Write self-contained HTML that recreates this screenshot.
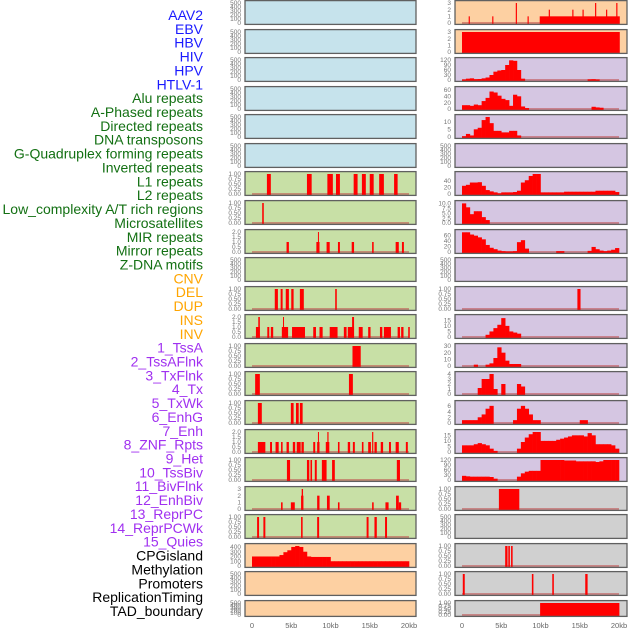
<!DOCTYPE html>
<html><head><meta charset="utf-8"><style>
html,body{margin:0;padding:0;background:#fff;}
svg{display:block;font-family:"Liberation Sans",sans-serif;}
</style></head><body>
<svg id="chart" width="630" height="630" viewBox="0 0 630 630" xmlns="http://www.w3.org/2000/svg"></svg>
<script>
// ---------- labels ----------
const labelsBlue = ["AAV2","EBV","HBV","HIV","HPV","HTLV-1"];
const labelsGreen = ["Alu repeats","A-Phased repeats","Directed repeats","DNA transposons","G-Quadruplex forming repeats","Inverted repeats","L1 repeats","L2 repeats","Low_complexity A/T rich regions","Microsatellites","MIR repeats","Mirror repeats","Z-DNA motifs"];
const labelsOrange = ["CNV","DEL","DUP","INS","INV"];
const labelsPurple = ["1_TssA","2_TssAFlnk","3_TxFlnk","4_Tx","5_TxWk","6_EnhG","7_Enh","8_ZNF_Rpts","9_Het","10_TssBiv","11_BivFlnk","12_EnhBiv","13_ReprPC","14_ReprPCWk","15_Quies"];
const labelsBlack = ["CPGisland","Methylation","Promoters","ReplicationTiming","TAD_boundary"];
const xTickLabels = ["0","5kb","10kb","15kb","20kb"];
const xTickValues = [0,5,10,15,20];

// ---------- interval data [startKb, endKb, value] ----------
const leftBars7 = [[1.9,2.4,1],[7.0,7.6,1],[9.6,10.3,1],[10.7,11.2,1],[12.95,13.45,1],[14.0,14.5,1],[15.0,15.5,1],[16.2,16.8,1],[18.1,18.55,1]];
const leftBars8 = [[1.3,1.5,1]];
const leftBars9 = [[4.4,4.7,1],[8.2,8.6,1],[8.4,8.5,2],[9.5,9.9,1],[10.95,11.2,1],[12.7,13.0,1],[15.3,15.5,1],[18.3,18.7,1],[19.1,19.35,1]];
const leftBars11 = [[2.9,3.3,1],[3.65,3.9,1],[4.3,4.7,1],[5.0,5.3,1],[6.1,6.6,1],[10.6,10.8,1]];
const leftBars12 = [[0.5,1.0,1],[0.8,1.0,2],[1.95,2.2,1],[2.4,2.7,1],[3.8,4.6,1],[3.95,4.05,2],[5.1,6.75,1],[7.8,8.15,1],[8.6,9.0,1],[9.9,10.9,1],[11.7,12.05,1],[12.2,13.0,1],[12.75,13.0,2],[13.6,14.1,1],[14.8,15.1,1],[16.3,16.6,1],[16.8,17.7,1],[18.55,18.85,1],[19.0,19.3,1],[19.9,20.1,1]];
const leftBars13 = [[12.8,13.85,1]];
const leftBars14 = [[0.4,1.0,1],[12.35,12.85,1]];
const leftBars15 = [[0.75,1.25,1],[4.95,5.3,1],[5.6,5.95,1],[6.1,6.45,1]];
const leftBars16 = [[0.75,1.7,1],[2.3,2.55,1],[3.0,3.4,1],[3.7,3.9,1],[4.4,4.7,1],[5.2,5.5,1],[5.7,6.2,1],[6.3,6.6,1],[7.8,8.05,1],[8.3,8.6,1],[8.4,8.5,2],[9.4,9.85,1],[9.6,9.75,2],[10.95,11.15,1],[12.2,12.5,1],[12.85,13.1,1],[14.0,14.2,1],[14.8,15.15,1],[15.3,15.45,2],[15.6,15.9,1],[16.4,16.7,1],[17.45,17.7,1],[18.3,18.7,1],[19.6,19.85,1]];
const leftBars17 = [[4.45,4.85,1],[7.0,7.3,1],[7.45,7.65,1],[8.0,8.25,1],[8.9,9.5,1],[10.2,10.55,1],[18.45,18.85,1]];
const leftBars18 = [[3.7,3.9,1],[4.95,5.45,1],[6.25,6.55,2],[6.33,6.5,3],[8.3,8.6,2],[9.55,9.9,2],[10.95,11.15,1],[15.3,15.5,1],[17.0,17.4,1],[18.35,18.7,2],[18.7,19.0,1]];
const leftBars19 = [[0.65,0.9,1],[1.45,1.7,1],[6.25,6.45,1],[8.3,8.55,1],[14.6,14.85,1],[15.6,15.9,1],[16.95,17.2,1]];
const rightBarsINS = [[0.85,1.0,1],[3.85,4.0,1],[6.85,7.0,3],[8.35,8.5,1],[9.9,20.1,1],[11.05,11.2,2],[14.05,14.2,2],[15.35,15.5,2],[16.95,17.1,3],[18.35,18.5,2],[19.65,19.8,3]];
const rightBarsINV = [[0.0,20.1,3]];
const rightBars11 = [[14.7,15.1,1]];
const rightBarsCPG = [[4.7,7.3,1]];
const rightBarsPromoters = [[5.5,5.8,1],[5.9,6.1,1],[6.25,6.45,1]];
const rightBarsRepl = [[0.1,0.35,1],[8.9,9.1,1],[11.5,11.7,1],[15.7,16.0,1]];
const rightBarsTAD = [[9.95,20.05,1]];

// ---------- binned data (0.5 kb bins, 0-20 kb) ----------
const binsR3 = [3,8,10,5,6,10,15,30,50,57,60,90,118,115,60,8,0,0,0,0,0,0,0,0,0,0,0,0,0,0,0,0,4,5,3,0,0,0,0,0];
const binsR4 = [12,12,10,14,12,25,35,55,52,42,32,28,10,45,40,8,3,0,0,0,0,0,0,0,0,0,0,0,0,0,0,0,0,7,5,4,0,0,0,0];
const binsR5 = [0.5,2,1,5,6,11,13,9,4,4,3,3,4,4,1,0,0,0,0,0,0,0,0,0,0,0,0,0,0,0,0,0,0,0,0,0,0,0,0,0];
const binsR7 = [25,28,35,35,36,25,12,8,5,2,5,5,5,6,10,35,42,55,61,61,5,5,5,5,5,5,7,7,7,7,7,7,7,7,10,10,10,10,10,6];
const binsR8 = [10,8,4.5,6,6,3,1.5,0,0,0,0,0,0,0,0,0,0,0,0,0,0,0,0,0,0,0,0,0,0,0,0,0,0,0,0,0,0,0,0,0];
const binsR9 = [70,70,62,58,52,45,25,15,10,5,3,2,2,3,35,42,12,0,0,0,0,0,0,0,3,3,0,0,0,0,0,0,4,18,10,5,3,5,8,14];
const binsR12 = [0,0,0,0,0,0,2,5,8,11,17,10,5,4,3,0,0,0,0,0,0,0,0,0,0,0,0,0,0,0,0,0,0,0,0,0,0,0,0,0];
const binsR13 = [0,0,0,2,0,0,2,4,12,28,20,8,3,3,3,0,0,0,0,0,0,0,0,0,0,0,0,0,0,0,0,0,0,0,0,0,0,0,0,0];
const binsR14 = [0,0,0,0,1.2,3,3,4,1,0,2,0,0,0,2,1.5,0,0,0,0,0,0,0,0,0,0,0,0,0,0,0,0,0,0,0,0,0,0,0,0];
const binsR15 = [1,1,1,1,2,3,5,6,0,0,0,0,0,1,5,6,5,3,1,1,0,0,0,0,0,0,0,0,0,0,1,1,0,0,0,0,0,0,0,0];
const binsR16 = [6,6,6,7,8,7,6,3,1,0,0,0,0,0,3,9,13,16,18,18,10,10,10,10,11,12,13,14,15,15,15,14,17,15,7,7,7,7,6,3];
const binsR17 = [25,22,20,20,20,20,20,18,8,0,0,0,0,0,20,40,50,55,55,55,120,120,120,120,120,120,117,117,117,112,112,112,112,112,108,112,120,120,120,120];
const binsMethyl = [200,200,200,200,200,200,200,230,290,330,400,420,400,300,200,190,190,190,190,190,100,100,100,100,100,100,100,100,100,100,100,100,100,100,100,100,100,100,100,100];

// ---------- tick label sets ----------
const ticksEmpty = ["0","100","200","300","400","500"];
const ticksUnit = ["0.00","0.25","0.50","0.75","1.00"];
const ticksTwo = ["0.0","0.5","1.0","1.5","2.0"];
const ticksThree = ["0","1","2","3"];
const ticksMethyl = ["0","100","200","300","400"];
const ticks120 = ["0","30","60","90","120"];
const ticks60 = ["0","20","40","60"];
const ticks10 = ["0","5","10"];
const ticks40 = ["0","20","40"];
const ticks10f = ["0.0","2.5","5.0","7.5","10.0"];
const ticks15 = ["0","5","10","15"];
const ticks30 = ["0","10","20","30"];
const ticks4 = ["0","1","2","3","4"];
const ticks6 = ["0","2","4","6"];

const BLUE="#c6e3ec", GREEN="#c8e0a6", ORANGE="#fdd0a2", PURPLE="#d5c6e2", GRAY="#d0d0d0";
const leftTracks = [
 [BLUE,"empty",null,500,ticksEmpty],[BLUE,"empty",null,500,ticksEmpty],[BLUE,"empty",null,500,ticksEmpty],
 [BLUE,"empty",null,500,ticksEmpty],[BLUE,"empty",null,500,ticksEmpty],[BLUE,"empty",null,500,ticksEmpty],
 [GREEN,"bars",leftBars7,1,ticksUnit],[GREEN,"bars",leftBars8,1,ticksUnit],[GREEN,"bars",leftBars9,2,ticksTwo],
 [GREEN,"empty",null,500,ticksEmpty],[GREEN,"bars",leftBars11,1,ticksUnit],[GREEN,"bars",leftBars12,2,ticksTwo],
 [GREEN,"bars",leftBars13,1,ticksUnit],[GREEN,"bars",leftBars14,1,ticksUnit],[GREEN,"bars",leftBars15,1,ticksUnit],
 [GREEN,"bars",leftBars16,2,ticksTwo],[GREEN,"bars",leftBars17,1,ticksUnit],[GREEN,"bars",leftBars18,3,ticksThree],
 [GREEN,"bars",leftBars19,1,ticksUnit],[ORANGE,"bins",binsMethyl,420,ticksMethyl],
 [ORANGE,"empty",null,500,ticksEmpty],[ORANGE,"empty",null,500,ticksEmpty]
];
const rightTracks = [
 [ORANGE,"bars",rightBarsINS,3,ticksThree],[ORANGE,"bars",rightBarsINV,3,ticksThree],
 [PURPLE,"bins",binsR3,120,ticks120],[PURPLE,"bins",binsR4,63,ticks60],[PURPLE,"bins",binsR5,13,ticks10],
 [PURPLE,"empty",null,500,ticksEmpty],[PURPLE,"bins",binsR7,61,ticks40],[PURPLE,"bins",binsR8,10.2,ticks10f],
 [PURPLE,"bins",binsR9,71,ticks60],[PURPLE,"empty",null,500,ticksEmpty],[PURPLE,"bars",rightBars11,1,ticksUnit],
 [PURPLE,"bins",binsR12,18,ticks15],[PURPLE,"bins",binsR13,30,ticks30],[PURPLE,"bins",binsR14,4,ticks4],
 [PURPLE,"bins",binsR15,7,ticks6],[PURPLE,"bins",binsR16,18,ticks15],[PURPLE,"bins",binsR17,120,ticks120],
 [GRAY,"bars",rightBarsCPG,1,ticksUnit],[GRAY,"empty",null,500,ticksEmpty],[GRAY,"bars",rightBarsPromoters,1,ticksUnit],
 [GRAY,"bars",rightBarsRepl,1,ticksUnit],[GRAY,"bars",rightBarsTAD,1,ticksUnit]
];

const NS="http://www.w3.org/2000/svg";
const svg=document.getElementById("chart");
function mk(tag,attrs,parent){const e=document.createElementNS(NS,tag);for(const k in attrs)e.setAttribute(k,attrs[k]);(parent||svg).appendChild(e);return e;}

// labels
const allLabels=[];
labelsBlue.forEach(t=>allLabels.push([t,"#1a1aff"]));
labelsGreen.forEach(t=>allLabels.push([t,"#137013"]));
labelsOrange.forEach(t=>allLabels.push([t,"#ffa500"]));
labelsPurple.forEach(t=>allLabels.push([t,"#a030f0"]));
labelsBlack.forEach(t=>allLabels.push([t,"#000"]));
allLabels.forEach((l,i)=>{
  const t=mk("text",{x:203,y:15+i*13.86+5,"text-anchor":"end","font-size":"14",fill:l[1]});
  t.textContent=l[0];
  
  
});

function rowTop(i){return Math.round(i*28.57);}
function rowH(i){return i===21?17:25;}

function drawColumn(tracks,px,pw,x0,tickX,colName){
  const xs=kb=>x0+kb*7.85;
  tracks.forEach((tr,i)=>{
    const [bg,type,data,yMax,ticks]=tr;
    const top=rowTop(i),h=rowH(i);
    const g=mk("g",{});
    
    
    const yb=top+h-2, span=h-5;
    const ys=v=>yb-v/yMax*span;
    mk("rect",{x:px,y:top,width:pw,height:h,fill:bg},g);
    // ticks
    const tmax=parseFloat(ticks[ticks.length-1]);
    ticks.forEach(tl=>{
      const v=parseFloat(tl);
      const yy=type==="empty"?yb-v/tmax*span:ys(v);
      const t=mk("text",{x:tickX,y:yy+2.2,"text-anchor":"end","font-size":"6.5",fill:"#777"},g);
      t.textContent=tl;
      
      
    });
    if(type!=="empty"){
      const base=mk("rect",{x:xs(0),y:yb-1,width:xs(20)-xs(0),height:2,fill:"#c04848","fill-opacity":"0.55"},g);
      
      
    }
    if(type==="bars"){
      data.forEach(d=>{
        const r=mk("rect",{x:xs(d[0]),y:ys(d[2]),width:Math.max(1,xs(d[1])-xs(d[0])),height:yb-ys(d[2])+1,fill:"#ff0000"},g);
        
        
      });
    } else if(type==="bins"){
      data.forEach((v,k)=>{
        if(v<=0)return;
        const r=mk("rect",{x:xs(k*0.5),y:ys(v),width:xs(0.5)-xs(0)+0.3,height:yb-ys(v)+1,fill:"#ff0000"},g);
        
        
      });
    }
    mk("rect",{x:px,y:top+0.6,width:pw,height:h-1.2,fill:"none",stroke:"#606060","stroke-width":"1.3"},g);
  });
  xTickValues.forEach((v,k)=>{
    const t=mk("text",{x:xs(v),y:628,"text-anchor":"middle","font-size":"7.5",fill:"#666"});
    t.textContent=xTickLabels[k];
    
    
  });
}
drawColumn(leftTracks,245,171,252,241,"left");
drawColumn(rightTracks,455,172,462,451,"right");
</script>
</body></html>
